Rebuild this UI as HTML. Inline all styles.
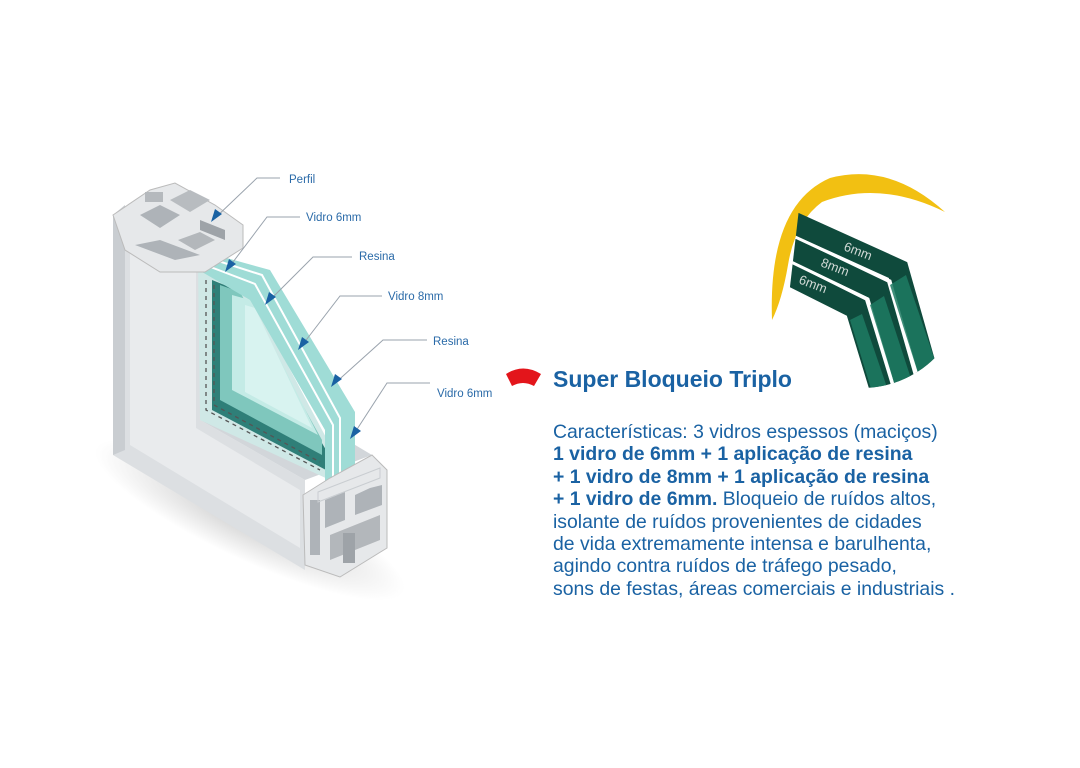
<!DOCTYPE html>
<html><head><meta charset="utf-8"><style>
html,body{margin:0;padding:0;background:#fff;}
body{width:1080px;height:768px;position:relative;overflow:hidden;font-family:"Liberation Sans",Arial,sans-serif;}
.t{position:absolute;left:553px;top:366px;font-size:23px;font-weight:bold;color:#1a62a3;white-space:nowrap;}
.b{position:absolute;left:553px;top:421px;font-size:19.4px;line-height:22.4px;color:#1a62a3;white-space:nowrap;}
.b b{font-weight:bold;}
</style></head><body>
<svg width="1080" height="768" style="position:absolute;left:0;top:0">
<defs>
<radialGradient id="sh" cx="0.5" cy="0.5" r="0.5"><stop offset="0" stop-color="#999" stop-opacity="0.5"/><stop offset="1" stop-color="#999" stop-opacity="0"/></radialGradient>
<clipPath id="cc"><path d="M800,200 L965,200 L965,400 L800,400 L785,330 Z"/></clipPath>
<clipPath id="cc2"><circle cx="862" cy="285" r="103"/></clipPath>
</defs>
<ellipse cx="250" cy="520" rx="170" ry="40" fill="url(#sh)" transform="rotate(25 250 520)"/>
<polygon points="113,215 113,455 305,570 305,480 200,420 200,262" fill="#dcdfe2"/>
<polygon points="113,215 125,205 125,450 113,455" fill="#c9cdd1"/>
<polygon points="130,250 130,445 300,548 300,490 196,428 196,270" fill="#e9ebed"/>
<polygon points="200,420 305,480 372,455 330,430 322,455 210,395" fill="#d2d6da"/>
<polygon points="198,262 240,275 330,445 330,480 200,420" fill="#cfe8e6"/>
<polygon points="212,280 232,288 326,450 326,470 212,410" fill="#2f7f78"/>
<polygon points="220,285 240,292 322,440 322,455 220,400" fill="#7fc7bd"/>
<polygon points="232,295 250,300 318,435 232,390" fill="#c4ebe6"/>
<polygon points="245,305 255,308 312,428 245,392" fill="#d8f3f0"/>
<polyline points="206,280 206,410 320,470" fill="none" stroke="#555" stroke-width="1.3" stroke-dasharray="4,4"/>
<polyline points="214,285 214,405 320,462" fill="none" stroke="#555" stroke-width="1.3" stroke-dasharray="4,4"/>
<polygon points="187,247 270,270 355,412 355,490 325,490 325,430 250,300 185,262" fill="#9fdcd6"/>
<polyline points="190,252 262,275 340,418 340,490" fill="none" stroke="#fff" stroke-width="2"/>
<polyline points="187,258 255,284 333,425 333,490" fill="none" stroke="#fff" stroke-width="2"/>
<polygon points="113,215 150,190 175,183 215,205 243,225 243,248 205,272 160,272 125,250" fill="#e6e8ea" stroke="#bbb" stroke-width="1"/>
<rect x="145" y="192" width="18" height="10" fill="#b5b9bd"/>
<polygon points="140,215 160,205 180,215 160,228" fill="#aeb3b8"/>
<polygon points="170,200 190,190 210,200 190,212" fill="#b8bcc0"/>
<polygon points="135,245 175,260 200,255 160,240" fill="#aeb3b8"/>
<polygon points="178,240 200,232 215,240 195,250" fill="#b3b7bb"/>
<polygon points="200,220 225,230 225,240 200,230" fill="#9ea3a8"/>
<polygon points="303,495 330,478 372,455 387,470 387,548 340,577 305,565" fill="#e6e8ea" stroke="#bbb" stroke-width="1"/>
<rect x="310" y="500" width="10" height="55" fill="#aeb3b8"/>
<polygon points="325,500 345,492 345,520 325,528" fill="#aeb3b8"/>
<polygon points="330,535 355,525 380,515 380,540 355,550 330,560" fill="#b3b7bb"/>
<polygon points="355,495 370,488 382,485 382,505 355,515" fill="#aeb3b8"/>
<rect x="343" y="533" width="12" height="30" fill="#9ea3a8"/>
<polygon points="318,492 380,468 380,478 318,502" fill="none" stroke="#c9cdd1" stroke-width="1"/>
<g fill="none" stroke="#9aa3ad" stroke-width="1">
<polyline points="280,178 257,178 213,220"/>
<polyline points="300,217 267,217 227,270"/>
<polyline points="352,257 313,257 267,303"/>
<polyline points="382,296 340,296 300,348"/>
<polyline points="427,340 383,340 333,385"/>
<polyline points="430,383 387,383 352,437"/>
</g>
<g fill="#1a62a3">
<polygon points="211,222 215,209 222,214"/>
<polygon points="225,272 229,259 236,264"/>
<polygon points="265,305 269,292 276,297"/>
<polygon points="298,350 302,337 309,342"/>
<polygon points="331,387 335,374 342,379"/>
<polygon points="350,439 354,426 361,431"/>
</g>
<g font-family="Liberation Sans, Arial, sans-serif" font-size="11.5" fill="#2a6aa8">
<text x="289" y="183">Perfil</text>
<text x="306" y="221">Vidro 6mm</text>
<text x="359" y="260">Resina</text>
<text x="388" y="300">Vidro 8mm</text>
<text x="433" y="345">Resina</text>
<text x="437" y="397">Vidro 6mm</text>
</g>
<path d="M506,374 Q523,363 541,374 L534,386 Q523,380 512,386 Z" fill="#e3151b"/>
<path d="M945,212 Q890,162 830,178 Q768,205 772,320 Q782,300 788,265 Q795,222 822,202 Q880,180 945,212 Z" fill="#f2c012"/>
<g clip-path="url(#cc2)"><g clip-path="url(#cc)">
<g fill="none" stroke-linejoin="miter">
<polyline points="770,212 898,270 932,390" stroke="#0f4a3c" stroke-width="22"/>
<polyline points="765,236 878,290 908,395" stroke="#0f4a3c" stroke-width="22"/>
<polyline points="760,260 856,308 884,400" stroke="#0f4a3c" stroke-width="22"/>
<polyline points="767,224 890,281 922,392" stroke="#fff" stroke-width="3"/>
<polyline points="762,248 868,299 897,398" stroke="#fff" stroke-width="3"/>
</g>
<polygon points="906,275 945,390 925,395 890,285" fill="#1d7a62" opacity="0.85"/>
<polygon points="884,296 918,400 900,402 870,305" fill="#1d7a62" opacity="0.85"/>
<polygon points="862,314 893,405 876,405 850,320" fill="#1d7a62" opacity="0.85"/>
<g font-family="Liberation Sans, Arial, sans-serif" font-size="13" fill="#cfd8d4">
<text x="843" y="250" transform="rotate(21 843 250)">6mm</text>
<text x="820" y="266" transform="rotate(21 820 266)">8mm</text>
<text x="798" y="283" transform="rotate(21 798 283)">6mm</text>
</g>
</g></g>
</svg>
<div class="t">Super Bloqueio Triplo</div>
<div class="b">Características: 3 vidros espessos (maciços)<br><b>1 vidro de 6mm + 1 aplicação de resina<br>+ 1 vidro de 8mm + 1 aplicação de resina<br>+ 1 vidro de 6mm.</b> Bloqueio de ruídos altos,<br>isolante de ruídos provenientes de cidades<br>de vida extremamente intensa e barulhenta,<br>agindo contra ruídos de tráfego pesado,<br>sons de festas, áreas comerciais e industriais .</div>
</body></html>
